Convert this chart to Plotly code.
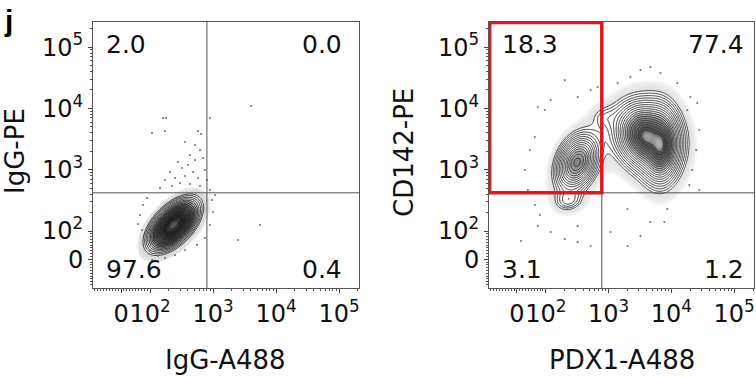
import numpy as np
import plotly.graph_objects as go

# ---------------- data ----------------
tick_values = [0, 100, 1000, 10000, 100000]
tick_labels = ["0", "10<sup>2</sup>", "10<sup>3</sup>", "10<sup>4</sup>", "10<sup>5</sup>"]

x_titles = ["IgG-A488", "PDX1-A488"]
y_titles = ["IgG-PE", "CD142-PE"]

quad_ul = ["2.0", "18.3"]
quad_ur = ["0.0", "77.4"]
quad_ll = ["97.6", "3.1"]
quad_lr = ["0.4", "1.2"]

gate_x = [800, 780]      # fluorescence
gate_y = [420, 420]

# population components (biexponential display units)
igg_mu_x = [2.37, 2.60]
igg_mu_y = [2.10, 2.85]
igg_sx = [0.12, 0.20]
igg_sy = [0.125, 0.30]
igg_rho = [0.55, 0.3]
igg_w = [1.0, 0.002]

pdx_mu_x = [2.50, 2.36, 3.60, 3.82, 2.95]
pdx_mu_y = [3.12, 2.50, 3.55, 3.40, 3.85]
pdx_sx = [0.14, 0.15, 0.16, 0.10, 0.16]
pdx_sy = [0.19, 0.12, 0.18, 0.20, 0.14]
pdx_rho = [0.30, 0.1, -0.15, 0.0, 0.0]
pdx_w = [0.12, 0.006, 0.50, 0.30, 0.004]

# sparse outlying events (display units)
igg_dots_x = [2.206, 2.254, 2.032, 2.238, 2.762, 2.810, 3.603, 2.952, 2.556, 2.714, 2.794, 2.635,
              2.444, 2.508, 2.603, 2.714, 2.841, 2.873, 2.317, 2.397, 2.556, 2.683, 2.762, 2.905,
              2.238, 2.476, 2.635, 2.794, 2.159, 2.349, 2.952, 1.841, 1.873, 1.921, 2.0, 2.127,
              2.238, 2.397, 2.556, 1.889, 1.952, 2.984, 3.0, 2.952, 2.873, 2.746, 1.810, 2.032,
              3.397, 3.746, 3.032]
igg_dots_y = [3.843, 3.843, 3.599, 3.631, 3.631, 3.582, 4.039, 3.843, 3.452, 3.403, 3.321, 3.240,
              3.126, 3.028, 3.077, 3.158, 3.191, 2.995, 2.962, 2.865, 2.897, 2.962, 2.865, 2.832,
              2.832, 2.783, 2.767, 2.734, 2.701, 2.734, 2.669, 2.261, 2.016, 1.853, 1.690, 1.592,
              1.560, 1.608, 1.690, 2.424, 2.538, 2.506, 2.310, 2.098, 1.886, 1.772, 2.114, 1.527,
              1.853, 2.098, 2.587]
pdx_dots_x = [2.302, 2.508, 1.873, 1.984, 1.825, 2.079, 2.714, 2.825, 3.508, 3.667, 3.825, 4.095,
              4.302, 4.413, 4.254, 3.349, 3.143, 1.603, 2.079, 2.302, 2.508, 2.714, 3.302, 3.508,
              3.667, 3.889, 3.302, 1.873, 2.508, 3.032, 3.937, 1.746, 1.667, 1.714, 1.825, 1.905,
              4.444, 4.397, 4.333, 4.286, 4.444]
pdx_dots_y = [4.463, 4.186, 4.023, 3.974, 3.533, 4.137, 4.300, 4.349, 4.626, 4.675, 4.578, 4.414,
              4.186, 4.088, 3.974, 4.512, 4.414, 1.837, 1.984, 1.869, 1.821, 1.755, 1.755, 1.918,
              2.147, 2.147, 2.359, 2.082, 2.082, 1.984, 2.359, 3.321, 2.995, 2.669, 2.424, 2.261,
              3.648, 3.321, 2.995, 2.750, 2.669]

# ---------------- helpers ----------------
ZERO_POS = 1.54
NU = 4.0


def biex(v):
    v = float(v)
    if v >= 100:
        return np.log10(v)
    return ZERO_POS + (2 - ZERO_POS) * v / 100.0


x_range = [1.095, 5.317]
y_range = [1.07, 5.41]

gx = np.linspace(x_range[0], x_range[1], 340)
gy = np.linspace(y_range[0], y_range[1], 340)
GX, GY = np.meshgrid(gx, gy)


def mixture(mx, my, sx, sy, rho, w):
    d = np.zeros_like(GX)
    for a, b, s1, s2, r, ww in zip(mx, my, sx, sy, rho, w):
        u = (GX - a) / s1
        v = (GY - b) / s2
        q = (u * u - 2 * r * u * v + v * v) / (1 - r * r)
        d += ww / (s1 * s2 * np.sqrt(1 - r * r)) * (1 + q / NU) ** (-(NU + 2) / 2)
    d = d / d.max()
    return np.log10(np.maximum(d, 1e-6))


Z = [mixture(igg_mu_x, igg_mu_y, igg_sx, igg_sy, igg_rho, igg_w),
     mixture(pdx_mu_x, pdx_mu_y, pdx_sx, pdx_sy, pdx_rho, pdx_w)]
dots_x = [igg_dots_x, pdx_dots_x]
dots_y = [igg_dots_y, pdx_dots_y]

ZMIN = -3.2
# t = (z - ZMIN) / 3.2
fill_scales = [
    [[0.0, "#ffffff"], [0.20, "#ffffff"], [0.24, "#e4e4e4"], [0.33, "#d4d4d4"], [0.345, "#ffffff"],
     [0.44, "#ffffff"], [0.60, "#707070"], [0.9, "#262626"], [1.0, "#555555"]],
    [[0.0, "#ffffff"], [0.20, "#ffffff"], [0.24, "#eeeeee"], [0.33, "#e0e0e0"], [0.345, "#ffffff"],
     [0.62, "#ffffff"], [0.78, "#8e8e8e"], [0.95, "#4a4a4a"], [1.0, "#b5b5b5"]],
]
line_cols = ["#1e1e1e", "#333333"]
line_steps = [0.11, 0.11]

fig = go.Figure()
xdoms = [[93 / 756, 359 / 756], [489 / 756, 754 / 756]]
ydom = [1 - 288 / 378, 1 - 22 / 378]

minor_vals = []
for n in range(2, 6):
    for k in range(2, 10):
        minor_vals.append(np.log10(k * 10 ** n))
for v in range(-90, 100, 10):
    if v != 0:
        minor_vals.append(biex(v))

for i in range(2):
    xa = "x" if i == 0 else "x2"
    ya = "y" if i == 0 else "y2"
    fig.add_trace(go.Contour(
        x=gx, y=gy, z=Z[i], xaxis=xa, yaxis=ya,
        zmin=ZMIN, zmax=0, colorscale=fill_scales[i], showscale=False,
        contours=dict(coloring="heatmap", showlines=False),
        line=dict(width=0), hoverinfo="skip"))
    fig.add_trace(go.Contour(
        x=gx, y=gy, z=Z[i], xaxis=xa, yaxis=ya, showscale=False,
        contours=dict(coloring="none", start=-2.1, end=-0.04, size=line_steps[i]),
        line=dict(color=line_cols[i], width=1, smoothing=1.0), hoverinfo="skip"))
    fig.add_trace(go.Scatter(
        x=dots_x[i], y=dots_y[i], xaxis=xa, yaxis=ya, mode="markers",
        marker=dict(size=2.2, color="#7a7a7a"), hoverinfo="skip", showlegend=False))

    sfx = "" if i == 0 else "2"
    axis_common = dict(
        showgrid=False, zeroline=False, showline=True, linecolor="#555555", linewidth=1,
        mirror=True, ticks="outside", ticklen=4, tickwidth=1, tickcolor="#444444",
        tickmode="array", tickvals=[biex(v) for v in tick_values], ticktext=tick_labels,
        tickfont=dict(family="DejaVu Sans", size=24, color="#111111"),
        tickangle=0, automargin=False,
        minor=dict(tickmode="array", tickvals=minor_vals, ticklen=2, tickcolor="#555555",
                   ticks="outside"),
    )
    fig.layout["xaxis" + sfx] = dict(axis_common, domain=xdoms[i], range=x_range,
                                     anchor=ya)
    fig.layout["yaxis" + sfx] = dict(axis_common, domain=ydom, range=y_range, anchor=xa)

    gxv = biex(gate_x[i])
    gyv = biex(gate_y[i])
    fig.add_shape(type="line", xref=xa, yref=ya, x0=gxv, x1=gxv, y0=y_range[0], y1=y_range[1],
                  line=dict(color="#555555", width=1))
    fig.add_shape(type="line", xref=xa, yref=ya, x0=x_range[0], x1=x_range[1], y0=gyv, y1=gyv,
                  line=dict(color="#555555", width=1))
    if i == 1:
        fig.add_shape(type="rect", xref=xa, yref=ya, x0=x_range[0] + 0.01, x1=gxv,
                      y0=gyv, y1=y_range[1] - 0.01, line=dict(color="#e3161c", width=3.5))

    qfont = dict(family="DejaVu Sans", size=25, color="#111111")
    xd = xa + " domain"
    yd = ya + " domain"
    lx = 0.042
    rx = 0.945 if i == 0 else 0.97
    fig.add_annotation(xref=xd, yref=yd, x=lx, y=0.917, text=quad_ul[i], showarrow=False,
                       xanchor="left", yanchor="middle", font=qfont)
    fig.add_annotation(xref=xd, yref=yd, x=rx, y=0.917, text=quad_ur[i], showarrow=False,
                       xanchor="right", yanchor="middle", font=qfont)
    fig.add_annotation(xref=xd, yref=yd, x=lx, y=0.071, text=quad_ll[i], showarrow=False,
                       xanchor="left", yanchor="middle", font=qfont)
    fig.add_annotation(xref=xd, yref=yd, x=rx, y=0.071, text=quad_lr[i], showarrow=False,
                       xanchor="right", yanchor="middle", font=qfont)

tfont = dict(family="DejaVu Sans", size=26, color="#111111")
fig.add_annotation(xref="paper", yref="paper", x=225 / 756, y=1 - 360 / 378, text=x_titles[0],
                   showarrow=False, xanchor="center", yanchor="middle", font=tfont)
fig.add_annotation(xref="paper", yref="paper", x=622 / 756, y=1 - 360 / 378, text=x_titles[1],
                   showarrow=False, xanchor="center", yanchor="middle", font=tfont)
fig.add_annotation(xref="paper", yref="paper", x=15 / 756, y=1 - 151 / 378, text=y_titles[0],
                   showarrow=False, xanchor="center", yanchor="middle", textangle=-90, font=tfont)
fig.add_annotation(xref="paper", yref="paper", x=404 / 756, y=1 - 153 / 378, text=y_titles[1],
                   showarrow=False, xanchor="center", yanchor="middle", textangle=-90, font=tfont)
fig.add_annotation(xref="paper", yref="paper", x=2 / 756, y=1 - 2 / 378, text="<b>j</b>",
                   showarrow=False, xanchor="left", yanchor="top",
                   font=dict(family="Liberation Sans", size=30, color="#000000"))

fig.update_layout(width=756, height=378, margin=dict(l=0, r=0, t=0, b=0),
                  paper_bgcolor="white", plot_bgcolor="white", showlegend=False)
fig.write_html("out.html")
